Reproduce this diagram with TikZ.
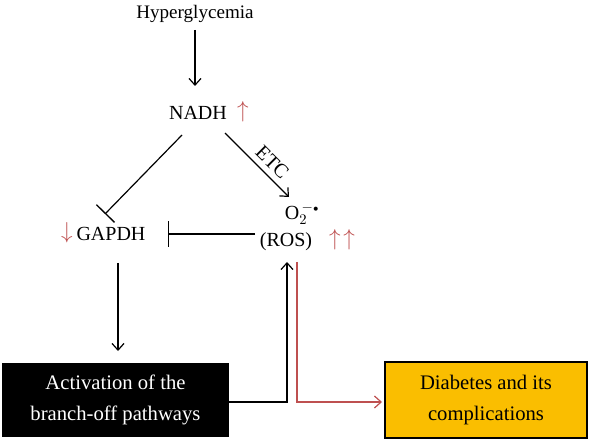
\documentclass[tikz,border=0pt]{standalone}
\usepackage{fontspec}
\setmainfont{Liberation Serif}
\usetikzlibrary{arrows.meta,calc}
\definecolor{myred}{RGB}{190,80,80}
\definecolor{myyellow}{RGB}{250,190,0}
\begin{document}
\begin{tikzpicture}[x=0.75pt,y=-0.75pt,
  lbl/.style={inner sep=0pt,font=\fontsize{15}{18}\selectfont},
  redmark/.style={inner sep=0pt,text=myred,font=\fontsize{17}{20}\selectfont},
  conn/.style={line width=0.9pt,-{Straight Barb[length=5pt,width=9pt]}},
  inhib/.style={line width=0.9pt,-{Bar[width=19pt,line width=1pt]}},
  boxstyle/.style={draw=black,line width=0.9pt,align=center,inner sep=0pt,font=\fontsize{15.5}{23}\selectfont}]
\useasboundingbox (0,0) rectangle (592,441);
\node[lbl,font=\fontsize{14.3}{17}\selectfont] (hyp) at (195,14) {Hyperglycemia};
\node[lbl] (nadh) at (198,113) {NADH};
\node[redmark] (nadhup) at (243,112) {$\uparrow$};
\node[lbl] (gapdh) at (111,234) {GAPDH};
\node[redmark] (gapdhdn) at (67,233) {$\downarrow$};
\node[lbl] (o2) at (302,214) {O\ensuremath{_{2}^{\,-{\scriptscriptstyle\bullet}}}};
\node[lbl] (ros) at (286,242) {(ROS)};
\node[redmark] (rosup) at (342,240) {$\uparrow\mkern2mu\uparrow$};
\node[boxstyle,fill=black,text=white,minimum width=168.75pt,minimum height=54pt] (blk) at (115.5,400) {Activation of the\\branch-off pathways};
\node[boxstyle,fill=myyellow,minimum width=151.5pt,minimum height=57pt] (yel) at (486,400) {Diabetes and its\\complications};
\coordinate (hypB) at (195,30);
\coordinate (nadhT) at (195,86);
\draw[conn] (hypB) -- (nadhT);
\coordinate (nadhL) at (182,135);
\coordinate (gapT) at (105,214);
\draw[inhib] (nadhL) -- (gapT);
\coordinate (nadhR) at (225,133);
\coordinate (o2T) at (289,197);
\draw[conn] (nadhR) -- node[lbl,sloped,above=4pt,pos=0.6]{ETC} (o2T);
\coordinate (rosL) at (255,234);
\coordinate (gapR) at (168,234);
\draw[inhib] (rosL) -- (gapR);
\coordinate (gapB) at (118,263);
\coordinate (blkT) at (118,351);
\draw[conn] (gapB) -- (blkT);
\coordinate (blkR) at (228,402);
\coordinate (rosB) at (287,262);
\draw[conn] (blkR) -| (rosB);
\coordinate (redS) at (297,262);
\coordinate (yelL) at (382,402);
\draw[conn,draw=myred] (redS) |- (yelL);
\end{tikzpicture}
\end{document}
